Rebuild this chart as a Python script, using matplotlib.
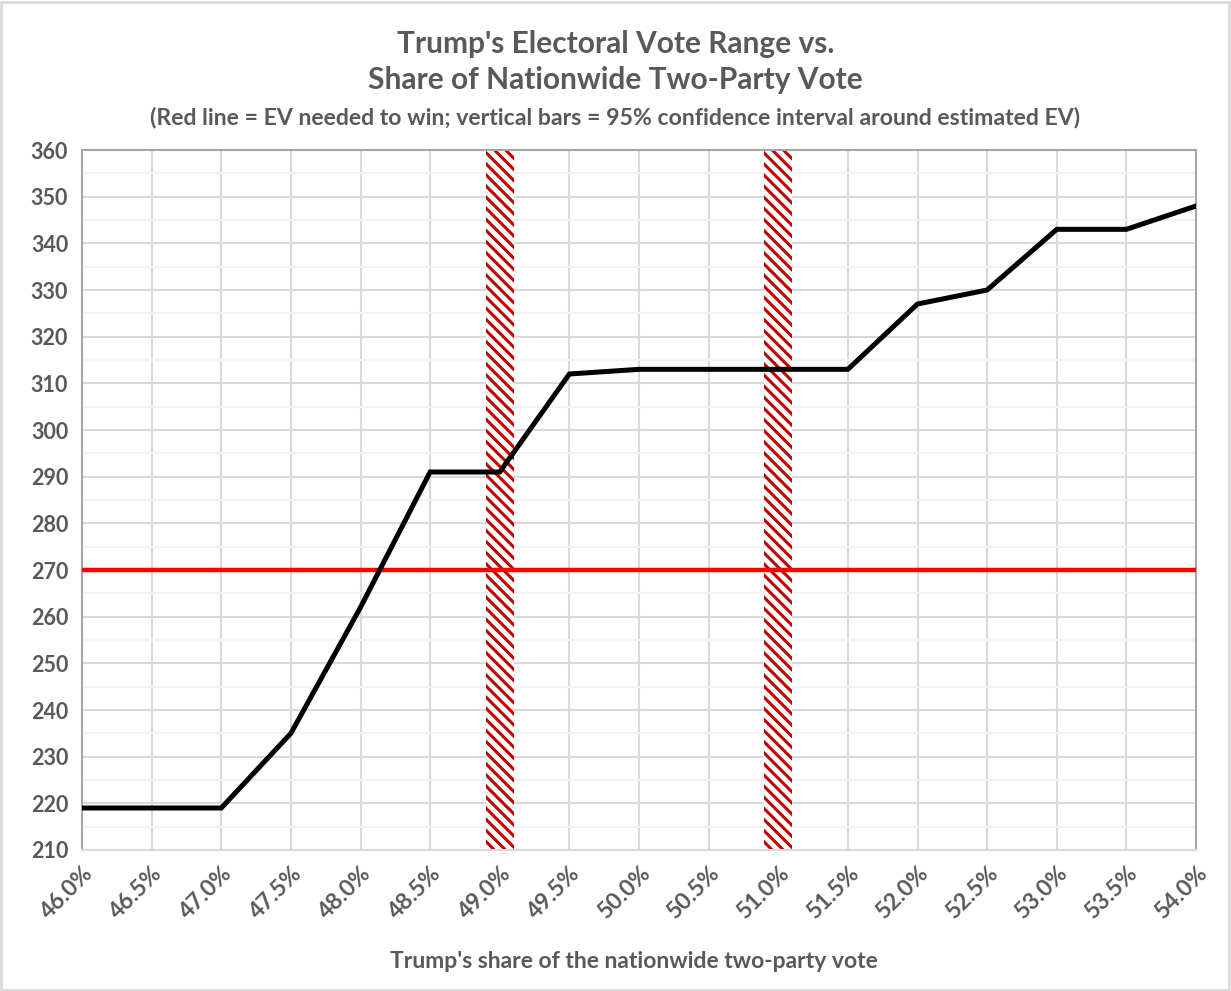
import matplotlib.pyplot as plt
import numpy as np
from matplotlib.patches import Rectangle

# data
vote_share = [46.0, 46.5, 47.0, 47.5, 48.0, 48.5, 49.0, 49.5, 50.0,
              50.5, 51.0, 51.5, 52.0, 52.5, 53.0, 53.5, 54.0]
electoral_votes = [219, 219, 219, 235, 262, 291, 291, 312, 313,
                   313, 313, 313, 327, 330, 343, 343, 348]
ev_needed = 270
ci_bars = [(48.9, 49.1), (50.9, 51.1)]

title_text = "Trump's Electoral Vote Range vs.\nShare of Nationwide Two-Party Vote"
subtitle_text = "(Red line = EV needed to win; vertical bars = 95% confidence interval around estimated EV)"
xlabel_text = "Trump's share of the nationwide two-party vote"

TXT = '#595959'


def main():
    plt.rcParams['font.family'] = ['Lato', 'DejaVu Sans']
    plt.rcParams['hatch.linewidth'] = 2.2
    plt.rcParams['hatch.color'] = '#C00000'

    fig = plt.figure(figsize=(12.31, 9.91), dpi=100)
    ax = fig.add_axes([82 / 1231, 1 - 850 / 991, (1196 - 82) / 1231, 700 / 991])

    # gridlines
    ax.set_xlim(46.0, 54.0)
    ax.set_ylim(210, 360)
    ax.set_xticks(vote_share)
    ax.set_yticks(np.arange(210, 361, 10))
    ax.set_yticks(np.arange(215, 360, 10), minor=True)
    ax.grid(axis='x', which='major', color='#D9D9D9', lw=1.5, zorder=0)
    ax.grid(axis='y', which='major', color='#D9D9D9', lw=1.5, zorder=0)
    ax.grid(axis='y', which='minor', color='#F2F2F2', lw=1.5, zorder=0)
    ax.set_axisbelow(True)

    # confidence interval bars
    for lo, hi in ci_bars:
        ax.axvspan(lo, hi, facecolor='white', edgecolor='#C00000', hatch='\\\\\\',
                   lw=0, zorder=1)

    ax.axhline(ev_needed, color='#FF0000', lw=3.2, zorder=3)
    ax.plot(vote_share, electoral_votes, color='black', lw=3.6, zorder=4,
            solid_joinstyle='miter')

    ax.set_xticklabels([f'{v:.1f}%' for v in vote_share], rotation=45,
                       ha='right', rotation_mode='anchor')
    ax.tick_params(axis='both', which='both', length=0, labelcolor=TXT)
    ax.tick_params(axis='x', pad=9, labelsize=16.5)
    ax.tick_params(axis='y', pad=10, labelsize=15.5)
    for lbl in ax.get_xticklabels() + ax.get_yticklabels():
        lbl.set_fontweight('bold')

    for side in ['left', 'top', 'right']:
        ax.spines[side].set_color('#A6A6A6')
        ax.spines[side].set_linewidth(1.5)
    ax.spines['bottom'].set_color('#D9D9D9')
    ax.spines['bottom'].set_linewidth(1.5)

    fig.text(0.5, 1 - 62 / 991, title_text, ha='center', va='center',
             fontsize=21.5, fontweight='bold', color=TXT, linespacing=1.35)
    fig.text(0.5, 1 - 117 / 991, subtitle_text, ha='center', va='center',
             fontsize=16.6, fontweight='bold', color=TXT)
    fig.text(634 / 1231, 1 - 962 / 991, xlabel_text, ha='center', va='center',
             fontsize=16.5, fontweight='bold', color=TXT)

    fig.patches.append(Rectangle((0.001, 0.001), 0.997, 0.997, transform=fig.transFigure,
                                 fill=False, edgecolor='#D9D9D9', lw=2))

    fig.savefig('out.png', dpi=100, facecolor='white')


if __name__ == '__main__':
    main()
